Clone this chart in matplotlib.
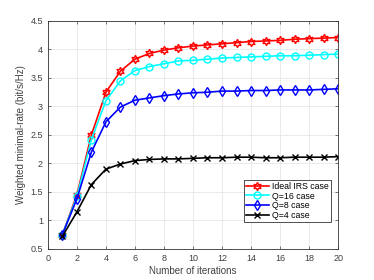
import matplotlib
matplotlib.use("Agg")
import matplotlib.pyplot as plt

iterations = list(range(1, 21))

ideal_irs = [0.75, 1.45, 2.50, 3.25, 3.62, 3.83, 3.93, 3.99, 4.03, 4.06,
             4.08, 4.10, 4.12, 4.14, 4.15, 4.16, 4.18, 4.19, 4.20, 4.21]
q16 = [0.75, 1.42, 2.42, 3.10, 3.45, 3.63, 3.70, 3.75, 3.80, 3.81,
       3.83, 3.85, 3.86, 3.87, 3.88, 3.89, 3.89, 3.90, 3.91, 3.92]
q8 = [0.75, 1.38, 2.20, 2.73, 2.99, 3.11, 3.15, 3.19, 3.22, 3.24,
      3.25, 3.27, 3.27, 3.28, 3.28, 3.29, 3.29, 3.29, 3.30, 3.31]
q4 = [0.72, 1.15, 1.63, 1.90, 1.99, 2.05, 2.07, 2.08, 2.08, 2.09,
      2.10, 2.10, 2.11, 2.11, 2.10, 2.10, 2.11, 2.11, 2.11, 2.12]

labels = ["Ideal IRS case", "Q=16 case", "Q=8 case", "Q=4 case"]

plt.rcParams['font.family'] = ['Liberation Sans', 'DejaVu Sans']

fig = plt.figure(figsize=(3.74, 2.8), dpi=100)
ax = fig.add_axes([0.128, 0.111, 0.776, 0.814])

lw = 1.2
ax.plot(iterations, ideal_irs, color='red', marker=(6, 1, 0), markersize=6,
        markerfacecolor='none', markeredgewidth=1.0, lw=lw, label=labels[0])
ax.plot(iterations, q16, color='cyan', marker='o', markersize=5,
        markerfacecolor='none', markeredgewidth=1.0, lw=lw, label=labels[1])
ax.plot(iterations, q8, color='blue', marker='d', markersize=5.5,
        markerfacecolor='none', markeredgewidth=1.0, lw=lw, label=labels[2])
ax.plot(iterations, q4, color='black', marker='x', markersize=4,
        markeredgewidth=1.0, lw=lw, label=labels[3])

ax.set_xlim(0, 20)
ax.set_ylim(0.5, 4.5)
ax.set_xticks(range(0, 21, 2))
ax.set_yticks([0.5, 1, 1.5, 2, 2.5, 3, 3.5, 4, 4.5])
ax.set_yticklabels(["0.5", "1", "1.5", "2", "2.5", "3", "3.5", "4", "4.5"])
ax.grid(True, color='#e6e6e6', linewidth=0.6)
ax.set_axisbelow(True)
ax.tick_params(labelsize=6.5, colors='#404040', direction='in', length=2.5,
               width=0.5, top=True, right=True)
for s in ax.spines.values():
    s.set_linewidth(0.6)
    s.set_color('#333333')

ax.set_xlabel("Number of iterations", fontsize=7, color='#404040', labelpad=2)
ax.set_ylabel("Weighted minimal-rate (bit/s/Hz)", fontsize=7, color='#404040', labelpad=3)

leg = ax.legend(loc='lower right', bbox_to_anchor=(0.975, 0.118), fontsize=6.3,
                fancybox=False, edgecolor='#333333', framealpha=1,
                handlelength=2.6, borderpad=0.2, labelspacing=0.1,
                handletextpad=0.4, borderaxespad=0)
leg.get_frame().set_linewidth(0.6)

fig.savefig("out.png", dpi=100)
